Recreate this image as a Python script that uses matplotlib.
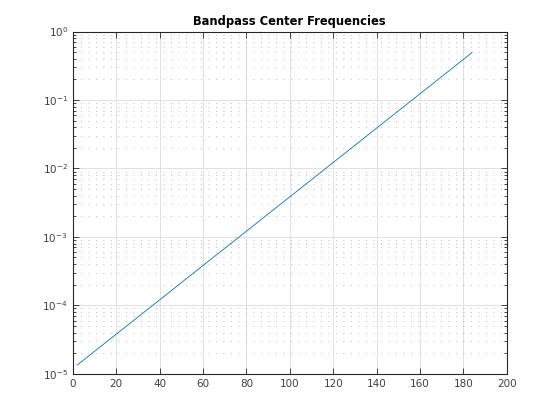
import matplotlib
matplotlib.use('Agg')
import matplotlib.pyplot as plt
from matplotlib.ticker import LogLocator, NullFormatter

# values (semitone-spaced centre frequencies)
band_index = [2, 20, 40, 60, 80, 100, 120, 140, 160, 184]
center_freq = [1.34e-5, 3.79e-5, 1.20e-4, 3.82e-4, 1.21e-3,
               3.85e-3, 1.22e-2, 3.88e-2, 0.123, 0.493]

plt.rcParams['font.family'] = 'DejaVu Sans'
plt.rcParams['font.size'] = 7.5

fig = plt.figure(figsize=(5.6, 4.2), dpi=100)
ax = fig.add_axes([0.13, 0.11, 0.775, 0.815])

ax.plot(band_index, center_freq, color='#0072BD', linewidth=0.6)

ax.set_yscale('log')
ax.set_xlim(0, 200)
ax.set_ylim(1e-5, 1)
ax.set_xticks(range(0, 201, 20))
ax.yaxis.set_major_locator(LogLocator(base=10, numticks=10))
ax.yaxis.set_minor_locator(LogLocator(base=10, subs=range(2, 10), numticks=20))
ax.yaxis.set_minor_formatter(NullFormatter())

ax.grid(True, which='major', color='#dcdcdc', linewidth=0.6, linestyle='-')
ax.grid(True, which='minor', axis='y', color='#a8a8a8', linewidth=0.6,
        linestyle=(0, (1, 8)))
ax.set_axisbelow(True)

ax.tick_params(which='both', direction='in', top=True, right=True,
               colors='#262626', labelcolor='#404040')
ax.tick_params(which='major', length=4, width=0.6)
ax.tick_params(which='minor', length=2, width=0.6)
for s in ax.spines.values():
    s.set_color('#262626')
    s.set_linewidth(0.8)

ax.set_title('Bandpass Center Frequencies', fontsize=8.3, fontweight='bold',
             color='black', pad=5)

fig.savefig('out.png', dpi=100, facecolor='white')
